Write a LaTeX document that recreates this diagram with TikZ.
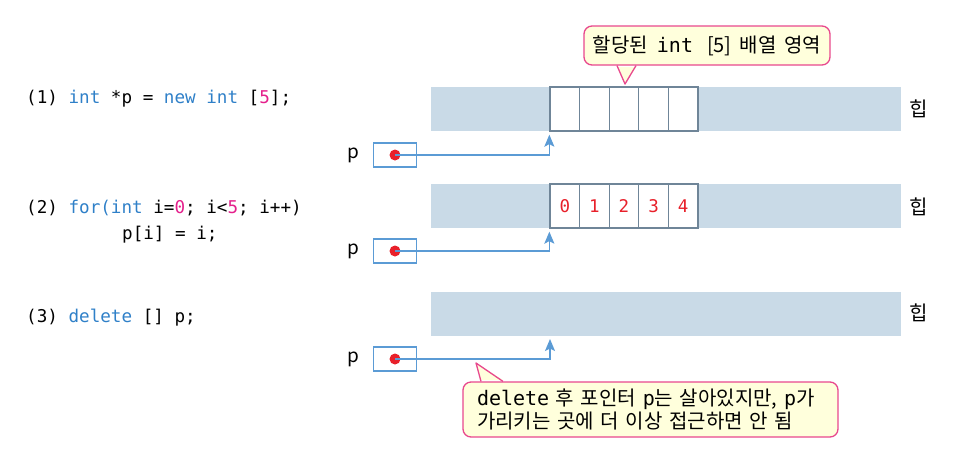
\documentclass[tikz,border=0pt]{standalone}
\usepackage{fontspec}
\setmainfont{Noto Sans CJK KR}
\setmonofont{DejaVu Sans Mono}
\usetikzlibrary{arrows.meta}
\definecolor{heapfill}{HTML}{C9DAE7}
\definecolor{cellborder}{HTML}{6F8598}
\definecolor{ptrblue}{HTML}{5B9BD5}
\definecolor{dotred}{HTML}{E8202A}
\definecolor{codeblue}{HTML}{2F80C8}
\definecolor{codemag}{HTML}{E4208C}
\definecolor{coborder}{HTML}{E8488E}
\definecolor{cofill}{HTML}{FFFFDC}
\newcommand{\kw}[1]{\textcolor{codeblue}{#1}}
\newcommand{\nm}[1]{\textcolor{codemag}{#1}}
\begin{document}
\begin{tikzpicture}[x=1pt,y=-1pt,
  heap/.style={fill=heapfill, draw=none, minimum width=470pt, minimum height=44pt, inner sep=0},
  cell/.style={draw=cellborder, fill=white, line width=1.3pt, minimum width=29.6pt, minimum height=44pt, inner sep=0, font=\ttfamily\fontsize{17.5}{17.5}\selectfont, text=dotred},
  ptrbox/.style={draw=ptrblue, line width=1.5pt, minimum width=43pt, minimum height=24pt, inner sep=0},
  dotn/.style={circle, fill=dotred, minimum size=11pt, inner sep=0},
  ptr/.style={draw=ptrblue, line width=1.5pt, -{Stealth[length=12pt,width=10pt,inset=2.5pt]}, shorten >=3pt},
  callout/.style={draw=coborder, fill=cofill, line width=1.3pt, rounded corners=8pt},
  tail/.style={draw=coborder, line width=1.3pt, line join=round},
  code/.style={anchor=west, inner sep=0, font=\ttfamily\fontsize{17.6}{17.6}\selectfont},
  lbl/.style={inner sep=0, font=\fontsize{19}{19}\selectfont},
  heaplbl/.style={inner sep=0, font=\fontsize{20}{20}\selectfont}
]
\useasboundingbox (0,0) rectangle (964,456);

% code
\node[code] (c1) at (26,99) {(1) \kw{int} *p = \kw{new} \kw{int} [\nm{5}];};
\node[code] (c2) at (26,208) {(2) \kw{for(int} i=\nm{0}; i<\nm{5}; i++)};
\node[code] (c2b) at (122,235) {p[i] = i;};
\node[code] (c3) at (26,318) {(3) \kw{delete} [] p;};

% heaps
\node[heap] (bar1) at (666,109) {};
\node[heap] (bar2) at (666,206) {};
\node[heap] (bar3) at (666,314) {};
\node[heaplbl] (h1) at (919,109) {힙};
\node[heaplbl] (h2) at (919,207) {힙};
\node[heaplbl] (h3) at (919,313) {힙};

% cells
\foreach \i in {0,...,4} {
  \node[cell] (a\i) at ({564.8+29.6*\i},109) {};
  \node[cell] (b\i) at ({564.8+29.6*\i},206) {\i};
}

% pointer boxes
\foreach \k/\y in {1/155,2/251,3/359} {
  \node[lbl] (p\k) at (353,\y) {p};
  \node[ptrbox] (box\k) at (395,\y) {};
  \node[dotn] (d\k) at (395,\y) {};
}
\coordinate (t3) at (550,336);
\draw[ptr] (d1.center) -| (a0.south west);
\draw[ptr] (d2.center) -| (b0.south west);
\draw[ptr] (d3.center) -| (t3);

% callout 1
\node[callout, minimum width=246pt, minimum height=39pt, inner sep=0,
      font=\fontsize{20}{20}\selectfont] (co1) at (707,45.5)
  {할당된\hspace{9pt}\texttt{int}\hspace{14pt}[5]\hspace{8pt}배열\hspace{8pt}영역};
\coordinate (co1a) at (617,65);
\coordinate (co1t) at (625,84);
\coordinate (co1b) at (636,65);
\fill[cofill] ([yshift=-2pt]co1a) -- (co1t) -- ([yshift=-2pt]co1b) -- cycle;
\draw[tail] ([yshift=-0.6pt]co1a) -- (co1t) -- ([yshift=-0.6pt]co1b);

% callout 2
\node[callout, minimum width=375pt, minimum height=55pt, inner xsep=14pt, inner ysep=0,
      text width=347pt, align=left, font=\fontsize{20}{23}\selectfont] (co2) at (650.5,409.5)
  {\texttt{delete} 후 포인터 \texttt{p}는 살아있지만, \texttt{p}가\\가리키는 곳에 더 이상 접근하면 안 됨};
\coordinate (co2a) at (481,382);
\coordinate (co2t) at (476,363);
\coordinate (co2b) at (503,382);
\fill[cofill] ([yshift=2pt]co2a) -- (co2t) -- ([yshift=2pt]co2b) -- cycle;
\draw[tail] ([yshift=0.6pt]co2a) -- (co2t) -- ([yshift=0.6pt]co2b);
\end{tikzpicture}
\end{document}
